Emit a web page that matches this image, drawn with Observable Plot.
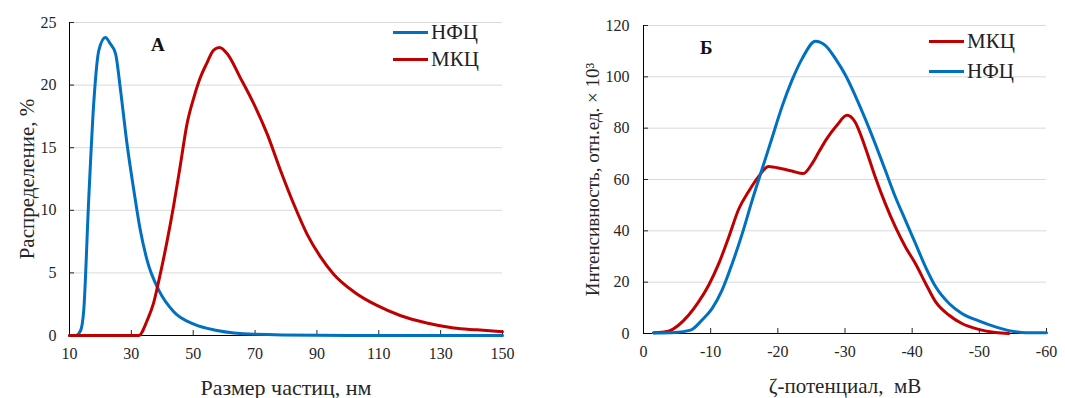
<!DOCTYPE html>
<html>
<head>
<meta charset="utf-8">
<script src="https://cdn.jsdelivr.net/npm/d3@7"></script>
<script src="https://cdn.jsdelivr.net/npm/@observablehq/plot@0.6"></script>
<style>
  body { margin: 0; background: #fff; }
  #wrap { position: relative; width: 1065px; height: 398px; font-family: "Liberation Serif", "DejaVu Serif", serif; }
  #wrap svg, #wrap svg text { font-family: "Liberation Serif", "DejaVu Serif", serif !important; }
  .panel { position: absolute; top: 0; }
  .leg { position: absolute; display: flex; align-items: center; font-size: 21px; color: #222; line-height: 1; }
  .leg span.sw { display: inline-block; width: 35px; height: 3px; margin-right: 3px; }
  .letter { position: absolute; font-weight: bold; font-size: 19px; color: #111; }
</style>
</head>
<body>
<div id="wrap">
  <div class="panel" id="pA" style="left:0px"></div>
  <div class="panel" id="pB" style="left:535px"></div>
  <div class="letter" style="left:151px; top:34px">А</div>
  <div class="letter" style="left:700px; top:37px">Б</div>
  <div class="leg" style="left:393px; top:22px"><span class="sw" style="background:#0070C0"></span>НФЦ</div>
  <div class="leg" style="left:393px; top:49px"><span class="sw" style="background:#C00000"></span>МКЦ</div>
  <div class="leg" style="left:929px; top:31px"><span class="sw" style="background:#C00000"></span>МКЦ</div>
  <div class="leg" style="left:929px; top:61px"><span class="sw" style="background:#0070C0"></span>НФЦ</div>
</div>
<script>
// Panel A: particle size distribution (%)
const nfcSize = [10, 12, 13.6, 14.6, 16.2, 17.9, 19.5, 21.6, 23.2, 24.9, 26.5, 28.6, 30.8, 32.9, 35.1, 38.9, 43.7, 50.2, 57.7, 69.6, 90, 120, 150];
const nfcDist = [0, 0, 0.4, 2, 10.8, 18.8, 22.8, 23.8, 23.3, 22.5, 19.6, 15.3, 11.6, 8.4, 6.0, 3.6, 1.9, 0.9, 0.4, 0.1, 0.02, 0, 0];
const mkcSize = [10, 32.4, 35.1, 37.2, 38.9, 41.6, 43.7, 45.9, 48, 50.2, 52.3, 54.5, 56.6, 58.5, 61, 65.2, 69.6, 73.9, 78.2, 82.5, 86.8, 91.1, 95.4, 101.9, 109.4, 116.9, 125.5, 134.2, 141.7, 150];
const mkcDist = [0, 0, 1.2, 2.6, 4.4, 7.6, 10.4, 13.7, 16.9, 19.0, 20.6, 21.8, 22.8, 23.0, 22.5, 20.6, 18.5, 16.1, 13.2, 10.5, 8.1, 6.3, 4.9, 3.5, 2.4, 1.6, 1.0, 0.6, 0.45, 0.3];
const sizeTicks = [10, 30, 50, 70, 90, 110, 130, 150];
const distTicks = [0, 5, 10, 15, 20, 25];

// Panel B: zeta potential (intensity, rel. units × 10^3)
const mkcZeta = [-1.5, -3.7, -5.2, -6.7, -8.2, -9.7, -11.2, -12.7, -14.2, -15.6, -17.1, -18.6, -20.6, -22.1, -23.8, -25.1, -26.1, -27.3, -28.8, -30.3, -31.5, -33, -34.5, -36, -37.5, -39, -40.5, -42, -43.5, -45.5, -47.4, -49.9, -52.4, -54.4];
const mkcInt = [0.3, 0.9, 3.2, 7.1, 12.3, 18.8, 27.2, 37.6, 48.6, 55.1, 61, 65.1, 64.2, 63.3, 62.3, 66.2, 70.7, 75.9, 81.1, 85, 82.4, 72.6, 61, 50.6, 41.5, 33.7, 27.2, 19.5, 12.3, 7.1, 3.9, 1.6, 0.4, 0];
const nfcZeta = [-1.5, -4.7, -7, -8.7, -10.2, -11.7, -13.2, -14.7, -16.1, -17.6, -19.1, -20.6, -22.1, -23.6, -25.6, -27.1, -28.6, -30.1, -31.5, -33, -34.5, -36, -37.5, -39, -40.5, -42, -43.5, -45.5, -47.4, -49.9, -52.4, -54.9, -56.9, -60];
const nfcInt = [0.2, 0.4, 1.3, 5.2, 9.7, 16.9, 27.2, 38.9, 51.2, 63.6, 75.9, 88.2, 98.6, 107, 113.9, 112.2, 107, 100.5, 92.8, 83.7, 73.9, 63.6, 53.2, 44.1, 35, 25.9, 18.2, 11.7, 7.8, 4.9, 2.6, 0.9, 0.3, 0.3];
const zetaTicks = [0, -10, -20, -30, -40, -50, -60];
const intTicks = [0, 20, 40, 60, 80, 100, 120];

const BLUE = "#0070C0", RED = "#C00000";
const font = {fontFamily: "'Liberation Serif', 'DejaVu Serif', serif", fontSize: "16px", color: "#262626", background: "transparent"};
const zip = (xs, ys) => xs.map((x, i) => ({x, y: ys[i]}));

const A = Plot.plot({
  width: 530, height: 398,
  marginLeft: 69, marginRight: 28, marginTop: 22, marginBottom: 63,
  style: font,
  x: {domain: [10, 150]},
  y: {domain: [0, 25]},
  marks: [
    Plot.gridY(distTicks.slice(1), {stroke: "#d9d9d9", strokeOpacity: 1}),
    Plot.axisY(distTicks, {tickSize: -5, tickPadding: 18, label: "Распределение, %", labelAnchor: "center", labelOffset: 50, labelArrow: "none"}),
    Plot.axisX(sizeTicks, {tickSize: -5, tickPadding: 17, label: "Размер частиц, нм", labelAnchor: "center", labelOffset: 59, labelArrow: "none"}),
    Plot.ruleY([0], {stroke: "#000"}),
    Plot.ruleX([10], {stroke: "#000"}),
    Plot.line(zip(nfcSize, nfcDist), {x: "x", y: "y", stroke: BLUE, strokeWidth: 3, curve: "monotone-x"}),
    Plot.line(zip(mkcSize, mkcDist), {x: "x", y: "y", stroke: RED, strokeWidth: 3, curve: "monotone-x"})
  ]
});

const B = Plot.plot({
  width: 530, height: 398,
  marginLeft: 108, marginRight: 19, marginTop: 25, marginBottom: 65,
  style: font,
  x: {domain: [0, -60]},
  y: {domain: [0, 120]},
  marks: [
    Plot.gridY(intTicks.slice(1), {stroke: "#d9d9d9", strokeOpacity: 1}),
    Plot.axisY(intTicks, {tickSize: -5, tickPadding: 19, label: "Интенсивность, отн.ед. × 10³", labelAnchor: "center", labelOffset: 58, labelArrow: "none"}),
    Plot.axisX(zetaTicks, {tickSize: -5, tickPadding: 17, tickFormat: d => d === 0 ? "0" : "-" + Math.abs(d), label: "ζ-потенциал,  мВ", labelAnchor: "center", labelOffset: 59, labelArrow: "none"}),
    Plot.ruleY([0], {stroke: "#000"}),
    Plot.ruleX([0], {stroke: "#000"}),
    Plot.line(zip(mkcZeta, mkcInt), {x: "x", y: "y", stroke: RED, strokeWidth: 3, curve: "monotone-x"}),
    Plot.line(zip(nfcZeta, nfcInt), {x: "x", y: "y", stroke: BLUE, strokeWidth: 3, curve: "monotone-x"})
  ]
});

const setLabelSize = (svg, sizes) => {
  svg.querySelectorAll("[aria-label='x-axis label']").forEach(g => g.setAttribute("font-size", sizes.x));
  svg.querySelectorAll("[aria-label='y-axis label']").forEach(g => g.setAttribute("font-size", sizes.y));
};
setLabelSize(A, {x: 22, y: 21});
setLabelSize(B, {x: 21, y: 19});
document.getElementById("pA").appendChild(A);
document.getElementById("pB").appendChild(B);
</script>
</body>
</html>
